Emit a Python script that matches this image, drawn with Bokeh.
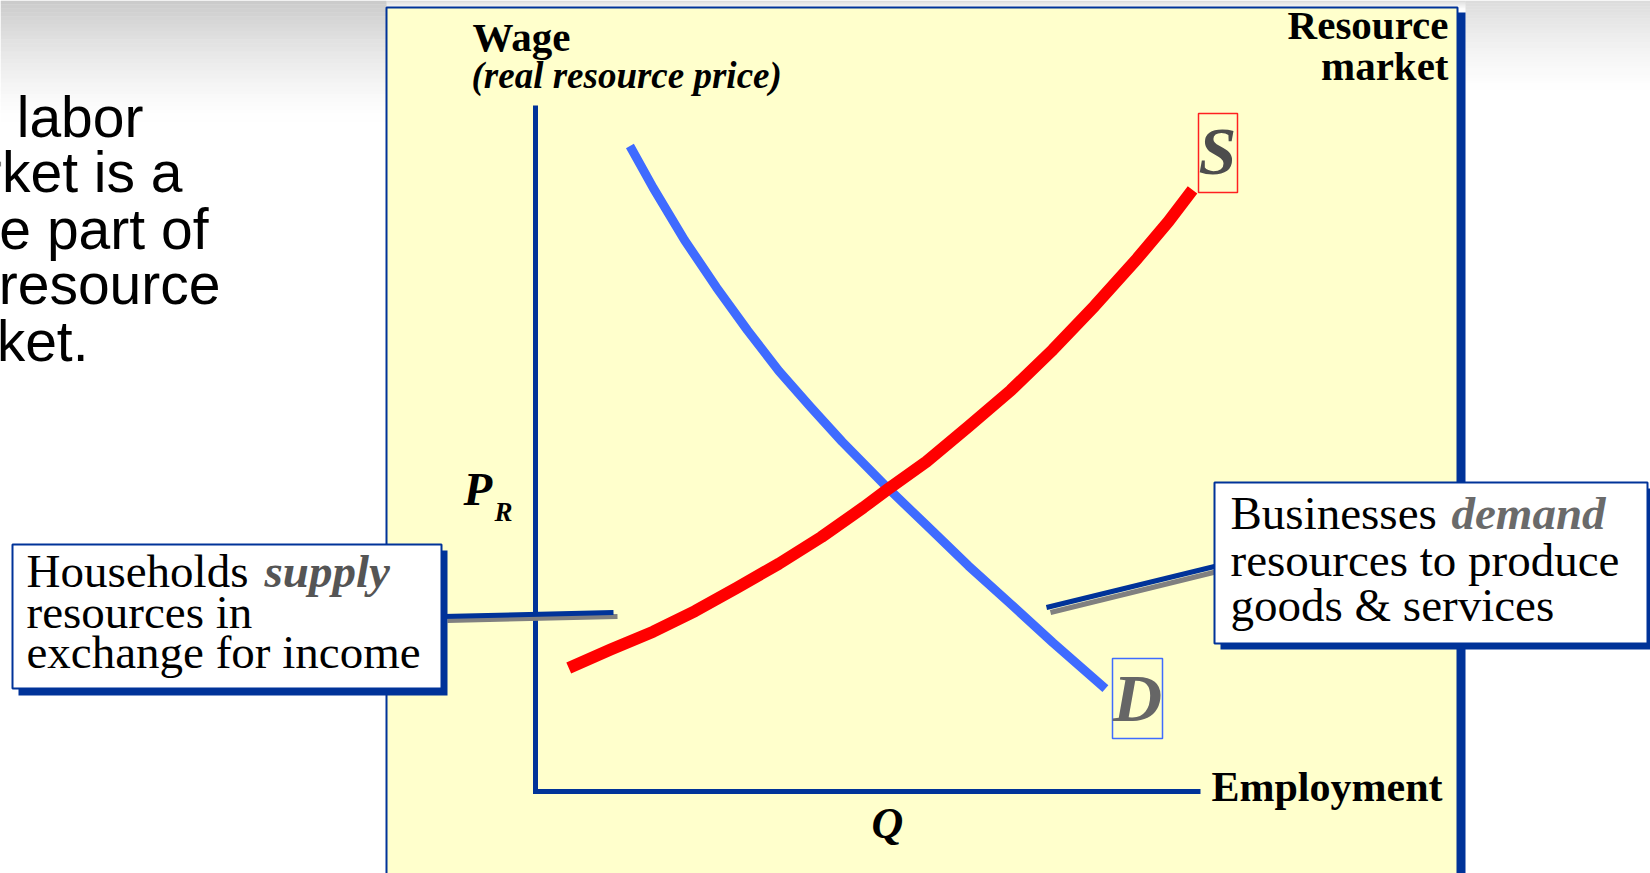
from bokeh.plotting import figure
from bokeh.models import Range1d
from bokeh.core.properties import value
from bokeh.embed import file_html
from bokeh.resources import INLINE

# ---------------- data (economic units) ----------------
supply_q = [0.50, 1.13, 1.77, 2.40, 3.03, 3.66, 4.30, 4.93, 5.29, 5.88, 6.51, 7.15, 7.78, 8.41, 9.05, 9.52, 9.88]
supply_w = [1.80, 2.07, 2.33, 2.63, 2.97, 3.32, 3.71, 4.14, 4.40, 4.81, 5.32, 5.85, 6.44, 7.08, 7.77, 8.31, 8.77]
demand_q = [1.42, 1.77, 2.24, 2.72, 3.19, 3.66, 4.14, 4.61, 5.29, 5.88, 6.51, 7.15, 7.78, 8.57]
demand_w = [9.41, 8.80, 8.04, 7.35, 6.72, 6.13, 5.60, 5.10, 4.43, 3.88, 3.29, 2.73, 2.17, 1.50]
axis_q = [0, 0, 10]
axis_w = [10, 0, 0]

body_lines = ["The labor", "market is a", "large part of", "the resource", "market."]
household_lines = ["Households", "supply", "resources in", "exchange for income"]
business_lines = ["Businesses", "demand", "resources to produce", "goods & services"]

# ---------------- page geometry ----------------
PW, PH = 1650, 873
OX, OY = 535, 791          # origin of the diagram axes (page px)
XE, YE = 1200, 105         # ends of the axes (page px)
ppx = (XE - OX) / 10.0
ppy = (OY - YE) / 10.0

SERIF = value("Liberation Serif")
SANS = value("Liberation Sans")
BLUE = "#003399"

p = figure(width=PW, height=PH, output_backend="svg", toolbar_location=None,
           x_range=Range1d(0, PW), y_range=Range1d(PH, 0),
           min_border=0, outline_line_color=None,
           background_fill_color="white", border_fill_color="white")
p.axis.visible = False
p.grid.visible = False
p.extra_x_ranges = {"q": Range1d((0 - OX) / ppx, (PW - OX) / ppx)}
p.extra_y_ranges = {"w": Range1d((OY - PH) / ppy, (OY - 0) / ppy)}

# ---------------- background haze at the top ----------------
n = 32
for (l, r, depth, a0) in [(0, 386, 125, 0.45), (386, 1465, 10, 0.35), (1465, PW, 95, 0.30)]:
    tops = [i * depth / n for i in range(n)]
    bots = [(i + 1) * depth / n for i in range(n)]
    alphas = [a0 * (1 - i / n) ** 1.5 for i in range(n)]
    p.quad(left=[l] * n, right=[r] * n, top=tops, bottom=bots,
           fill_color="#8c8c8c", fill_alpha=alphas, line_color=None)

# ---------------- panel ----------------
p.quad(left=[393], right=[1465], top=[12], bottom=[900], fill_color=BLUE, line_color=None)
p.quad(left=[386], right=[1457], top=[7], bottom=[900], fill_color="#FFFFCC",
       line_color=BLUE, line_width=2)

# ---------------- curves ----------------
p.line(demand_q, demand_w, x_range_name="q", y_range_name="w",
       line_color="#3F6BFF", line_width=9, line_join="round")
p.line(supply_q, supply_w, x_range_name="q", y_range_name="w",
       line_color="#FF0000", line_width=12, line_join="round")

# axes of the diagram
p.line(axis_q, axis_w, x_range_name="q", y_range_name="w",
       line_color=BLUE, line_width=5, line_join="miter")

# ---------------- leader lines ----------------
p.line([447, 617], [620, 616], line_color="#808080", line_width=5)
p.line([442, 613], [616, 612], line_color=BLUE, line_width=5)
p.line([1050, 1217], [612, 571], line_color="#808080", line_width=5)
p.line([1046, 1214], [607, 566], line_color=BLUE, line_width=5)

# ---------------- callout boxes ----------------
p.quad(left=[18], right=[447], top=[550], bottom=[695], fill_color=BLUE, line_color=None)
p.quad(left=[12], right=[441], top=[544], bottom=[688], fill_color="white",
       line_color=BLUE, line_width=2)
p.quad(left=[1220], right=[1653], top=[488], bottom=[649], fill_color=BLUE, line_color=None)
p.quad(left=[1214], right=[1647], top=[482], bottom=[643], fill_color="white",
       line_color=BLUE, line_width=2)

# S / D label boxes
p.quad(left=[1198], right=[1237], top=[113], bottom=[192], fill_color=None,
       line_color="#FF2020", line_width=1.5)
p.quad(left=[1112], right=[1162], top=[658], bottom=[738], fill_color=None,
       line_color="#3F6BFF", line_width=1.5)

SHIFT = 0.385  # compensation so that y is the visual alphabetic baseline


def txt(x, y, t, size, style="normal", color="black", align="left", font=SERIF):
    p.text(x=[x], y=[y - SHIFT * size], text=[t], text_font=font,
           text_font_size=value(f"{size}px"),
           text_font_style=style, text_color=color, text_align=align,
           text_baseline="alphabetic")


# left body text (clipped by the page edge)
for t, xr, yb in zip(body_lines, [143, 182, 208, 220, 88], [138, 193, 250, 305, 362]):
    txt(xr, yb, t, 57, align="right", font=SANS)

# diagram titles
txt(472, 52, "Wage", 41, "bold")
txt(471, 89, "(real resource price)", 37, "bold italic")
txt(1448, 40, "Resource", 41, "bold", align="right")
txt(1448, 81, "market", 41, "bold", align="right")
txt(1211, 803, "Employment", 42, "bold")
txt(463, 507, "P", 47, "bold italic")
txt(494, 522, "R", 27, "bold italic")
txt(887, 840, "Q", 44, "bold italic", align="center")
txt(1217, 177, "S", 68, "bold italic", color="#4d4d4d", align="center")
txt(1137, 724, "D", 68, "bold italic", color="#666666", align="center")

# callout texts
txt(26, 589, household_lines[0], 47)
txt(264, 589, household_lines[1], 47, "bold italic", color="#555555")
txt(26, 630, household_lines[2], 47)
txt(26, 670, household_lines[3], 47)

txt(1230, 531, business_lines[0], 47)
txt(1451, 531, business_lines[1], 47, "bold italic", color="#6a6a6a")
txt(1230, 578, business_lines[2], 47)
txt(1230, 623, business_lines[3], 47)

open("out.html", "w").write(file_html(p, INLINE))
